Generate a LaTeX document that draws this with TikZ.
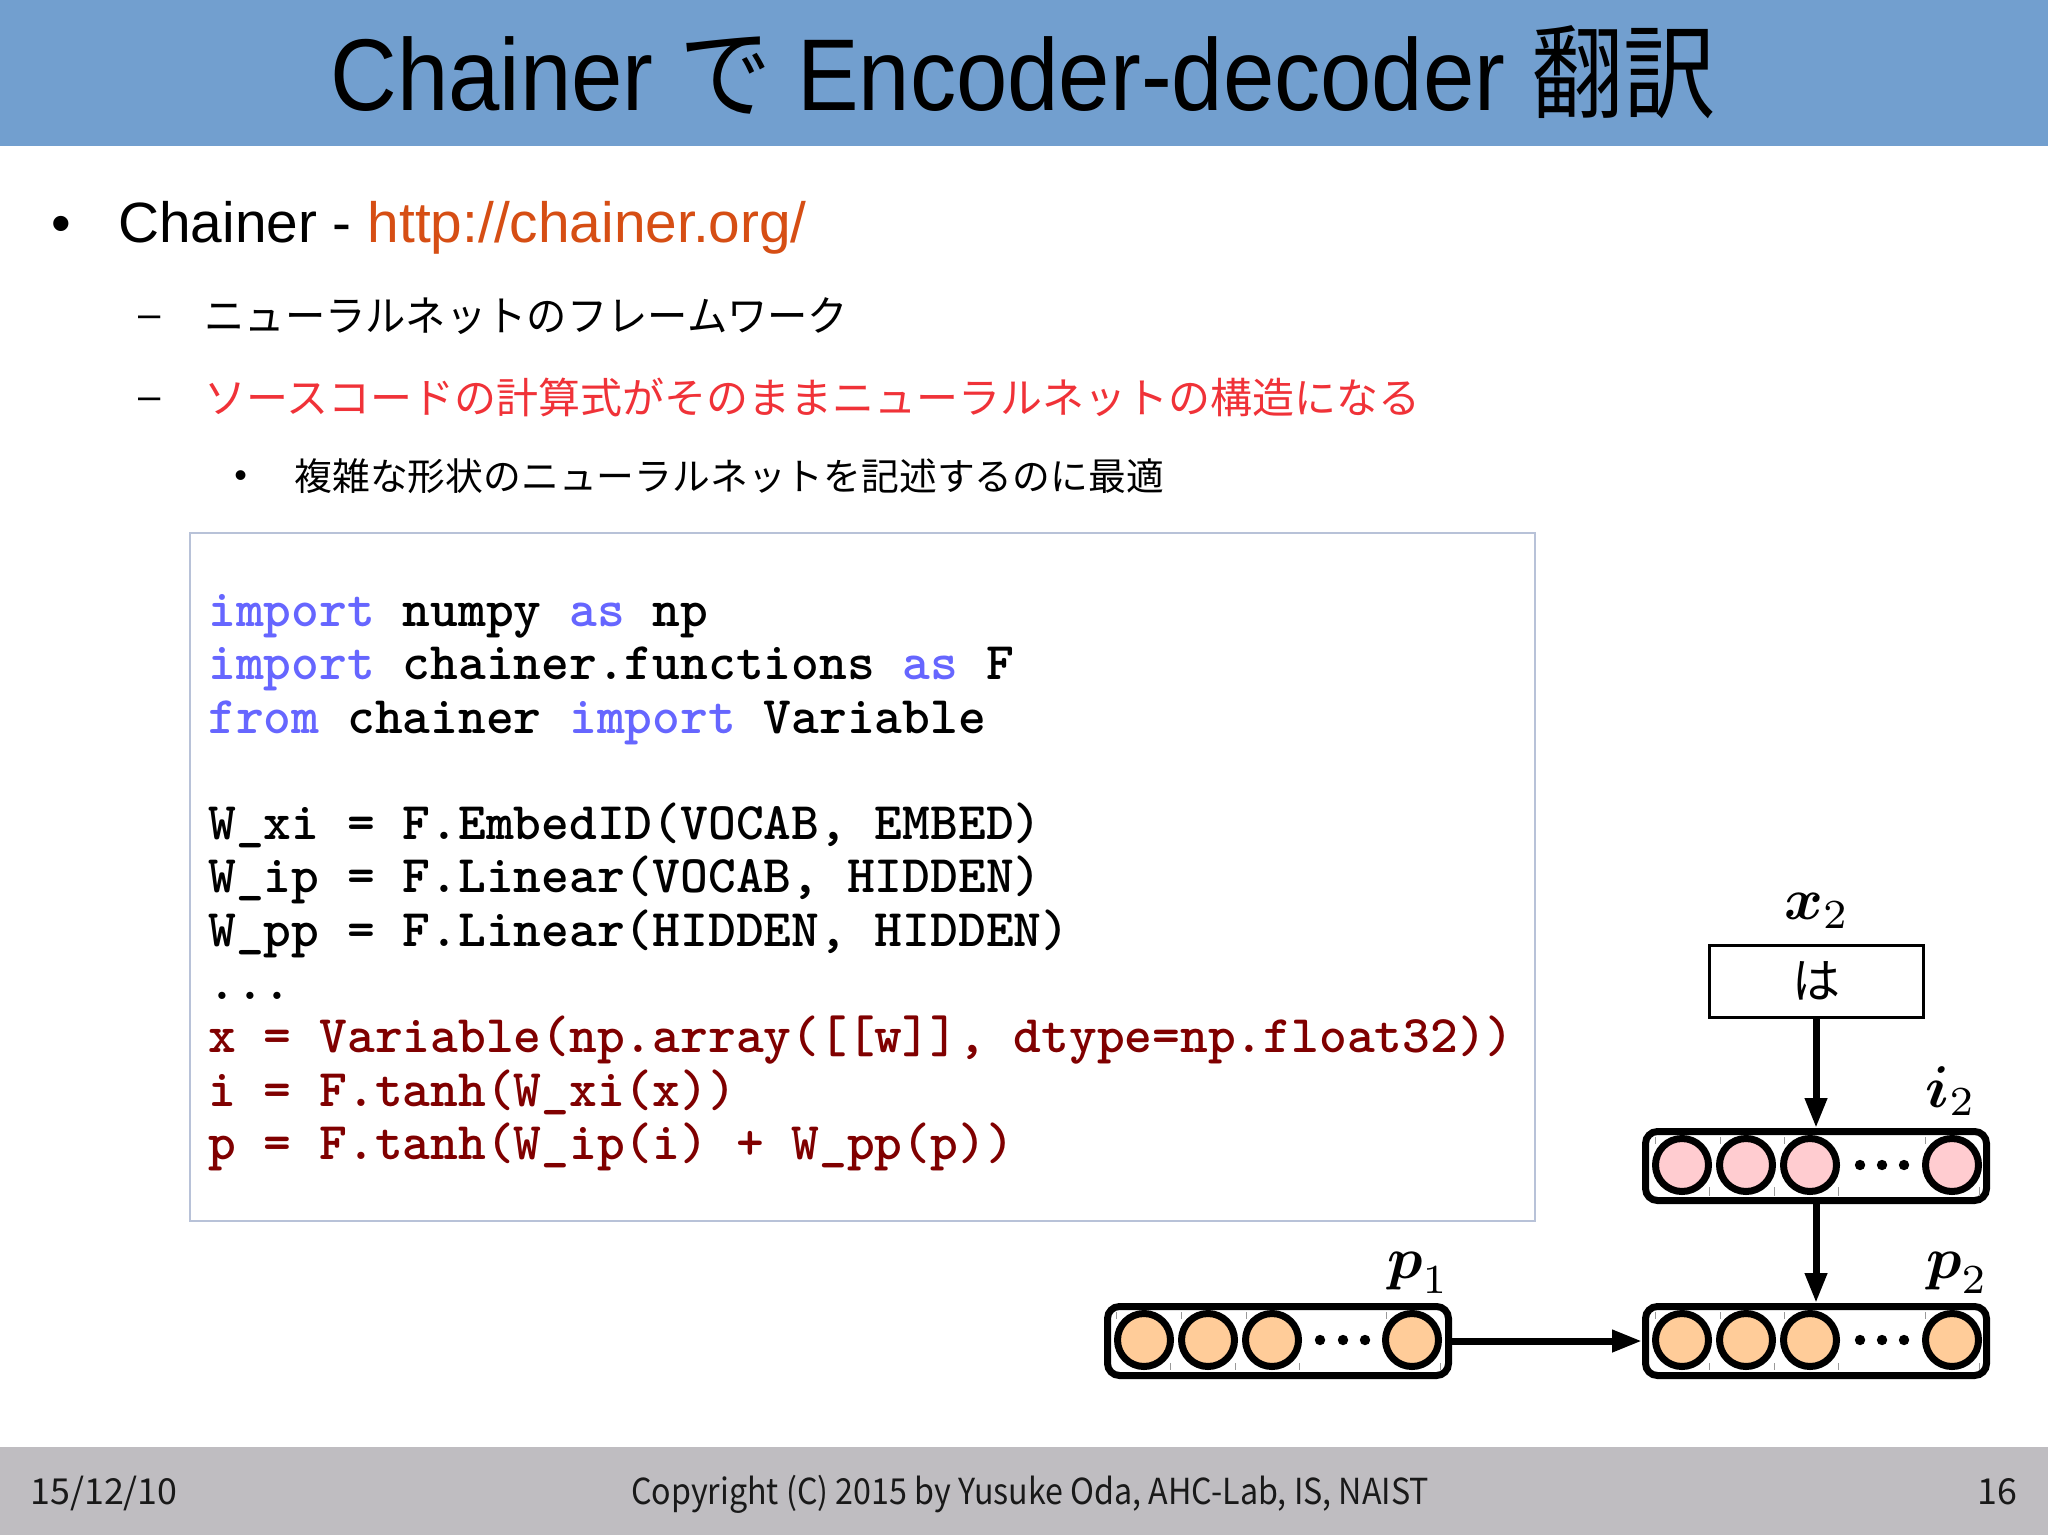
\documentclass[tikz,border=0pt]{standalone}
\usepackage{amsmath}
\usepackage{fontspec}
\setmainfont{Liberation Sans}
\newfontfamily\jpfont{Noto Sans CJK JP}
\usetikzlibrary{arrows.meta, positioning}
\definecolor{headblue}{RGB}{114, 159, 207}
\definecolor{footgray}{RGB}{191, 189, 193}
\definecolor{linkorange}{RGB}{214, 78, 20}
\definecolor{hotred}{RGB}{240, 50, 56}
\definecolor{boxline}{RGB}{184, 194, 216}
\definecolor{keyblue}{RGB}{102, 102, 255}
\definecolor{codered}{RGB}{128, 0, 0}
\definecolor{cellpink}{RGB}{255, 204, 208}
\definecolor{cellorange}{RGB}{255, 204, 153}
\newcommand{\kw}[1]{\textcolor{keyblue}{#1}}
\tikzset{
    slidetext/.style={anchor=base west, inner sep=0pt},
    rowbox/.style={draw=black, line width=3.5pt, rounded corners=6pt, fill=white, minimum width=170.5pt, minimum height=34.5pt, inner sep=0pt},
    cellpinkdot/.style={circle, draw=black, line width=3.5pt, fill=cellpink, minimum size=26.5pt, inner sep=0pt},
    cellorangedot/.style={circle, draw=black, line width=3.5pt, fill=cellorange, minimum size=26.5pt, inner sep=0pt},
    smalldot/.style={circle, fill=black, minimum size=5.2pt, inner sep=0pt},
    flowarrow/.style={-{Triangle[length=15pt,width=10.5pt]}, line width=3.5pt, black},
    celltick/.style={black!40, line width=0.4pt},
    veclabel/.style={inner sep=0pt, scale=2.95, transform shape},
    footlabel/.style={inner sep=0pt, text=black!90, font=\fontsize{17.9}{20}\selectfont\jpfont}
}
\begin{document}
\begin{tikzpicture}[x=0.5pt, y=-0.5pt]
    \useasboundingbox (0,0) rectangle (2048,1535);
    \fill[white] (0,0) rectangle (2048,1535);
    \fill[headblue] (0,0) rectangle (2048,146);
    \fill[footgray] (0,1447) rectangle (2048,1535);

    \node[inner sep=0pt, xscale=0.905, transform shape] (title) at (1023,72) {\fontsize{51}{60}\selectfont Chainer {\jpfont で} Encoder-decoder {\jpfont 翻訳}};

    \node[slidetext] (bulletA) at (51,243) {\fontsize{28}{32}\selectfont •};
    \node[slidetext] (lineA) at (118,243) {\fontsize{28.4}{32}\selectfont Chainer - \textcolor{linkorange}{http://chainer.org/}};
    \node[slidetext] (dashB) at (138,328) {\fontsize{20}{24}\selectfont –};
    \node[slidetext, xscale=0.96, transform shape] (lineB) at (204,332) {\fontsize{21}{24}\selectfont\jpfont ニューラルネットのフレームワーク};
    \node[slidetext] (dashC) at (138,409) {\fontsize{20}{24}\selectfont –};
    \node[slidetext] (lineC) at (204,413) {\fontsize{21}{24}\selectfont\jpfont\color{hotred} ソースコードの計算式がそのままニューラルネットの構造になる};
    \node[slidetext] (bulletD) at (234,487) {\fontsize{18}{24}\selectfont •};
    \node[slidetext] (lineD) at (294,490) {\fontsize{18.9}{24}\selectfont\jpfont 複雑な形状のニューラルネットを記述するのに最適};

    \draw[boxline, line width=1pt] (190,533) rectangle (1535,1221);
    \node[inner sep=0pt, anchor=north west, align=left, font=\fontsize{26.45}{26.65}\selectfont\ttfamily\bfseries] (code) at (208,594) {%
        \kw{import} numpy \kw{as} np\\
        \kw{import} chainer.functions \kw{as} F\\
        \kw{from} chainer \kw{import} Variable\\
        ~\\
        W\_xi = F.EmbedID(VOCAB, EMBED)\\
        W\_ip = F.Linear(VOCAB, HIDDEN)\\
        W\_pp = F.Linear(HIDDEN, HIDDEN)\\
        ...\\
        \textcolor{codered}{x = Variable(np.array([[w]], dtype=np.float32))}\\
        \textcolor{codered}{i = F.tanh(W\_xi(x))}\\
        \textcolor{codered}{p = F.tanh(W\_ip(i) + W\_pp(p))}};

    \node[draw=black, line width=1.5pt, minimum width=107pt, minimum height=36pt, inner sep=0pt, font=\fontsize{24}{28}\selectfont\jpfont] (word) at (1816,981) {は};
    \node[rowbox] (rowi) at (1816,1166) {};
    \node[rowbox] (rowp) at (1816,1341) {};
    \node[rowbox] (rowq) at (1278,1341) {};

    \draw[celltick] (1655,1137) -- (1655,1144) (1720,1137) -- (1720,1144) (1784,1137) -- (1784,1144) (1925,1137) -- (1925,1144) (1709,1187) -- (1709,1196) (1774,1187) -- (1774,1196) (1838,1187) -- (1838,1196) (1979,1187) -- (1979,1196);
    \draw[celltick] (1655,1312) -- (1655,1319) (1720,1312) -- (1720,1319) (1784,1312) -- (1784,1319) (1925,1312) -- (1925,1319) (1709,1363) -- (1709,1370) (1774,1363) -- (1774,1370) (1838,1363) -- (1838,1370) (1979,1363) -- (1979,1370);
    \draw[celltick] (1116,1312) -- (1116,1319) (1181,1312) -- (1181,1319) (1246,1312) -- (1246,1319) (1386,1312) -- (1386,1319) (1170,1363) -- (1170,1370) (1235,1363) -- (1235,1370) (1299,1363) -- (1299,1370) (1440,1363) -- (1440,1370);

    \node[cellpinkdot] (ia) at (1682,1165) {};
    \node[cellpinkdot] (ib) at (1746,1165) {};
    \node[cellpinkdot] (ic) at (1810,1165) {};
    \node[cellpinkdot] (id) at (1952,1165) {};
    \node[smalldot] (ix) at (1860,1165) {};
    \node[smalldot] (iy) at (1882,1165) {};
    \node[smalldot] (iz) at (1904,1165) {};

    \node[cellorangedot] (pa) at (1682,1340) {};
    \node[cellorangedot] (pb) at (1746,1340) {};
    \node[cellorangedot] (pc) at (1810,1340) {};
    \node[cellorangedot] (pd) at (1952,1340) {};
    \node[smalldot] (px) at (1860,1340) {};
    \node[smalldot] (py) at (1882,1340) {};
    \node[smalldot] (pz) at (1904,1340) {};

    \node[cellorangedot] (qa) at (1144,1340) {};
    \node[cellorangedot] (qb) at (1208,1340) {};
    \node[cellorangedot] (qc) at (1272,1340) {};
    \node[cellorangedot] (qd) at (1412,1340) {};
    \node[smalldot] (qx) at (1320,1340) {};
    \node[smalldot] (qy) at (1343,1340) {};
    \node[smalldot] (qz) at (1365,1340) {};

    \draw[flowarrow] (word) -- (rowi);
    \draw[flowarrow] (rowi) -- (rowp);
    \draw[flowarrow] (rowq) -- (rowp);

    \node[veclabel] (labx) at (1817,911) {$\boldsymbol{x}_2$};
    \node[veclabel] (labi) at (1951,1091) {$\boldsymbol{i}_2$};
    \node[veclabel] (labq) at (1418,1273) {$\boldsymbol{p}_1$};
    \node[veclabel] (labp) at (1957,1273) {$\boldsymbol{p}_2$};

    \node[footlabel, anchor=base west] (date) at (30,1504) {15/12/10};
    \node[footlabel, anchor=base, xscale=0.9, transform shape] (copy) at (1030,1504) {Copyright (C) 2015 by Yusuke Oda, AHC-Lab, IS, NAIST};
    \node[footlabel, anchor=base east] (page) at (2018,1504) {16};
\end{tikzpicture}
\end{document}
